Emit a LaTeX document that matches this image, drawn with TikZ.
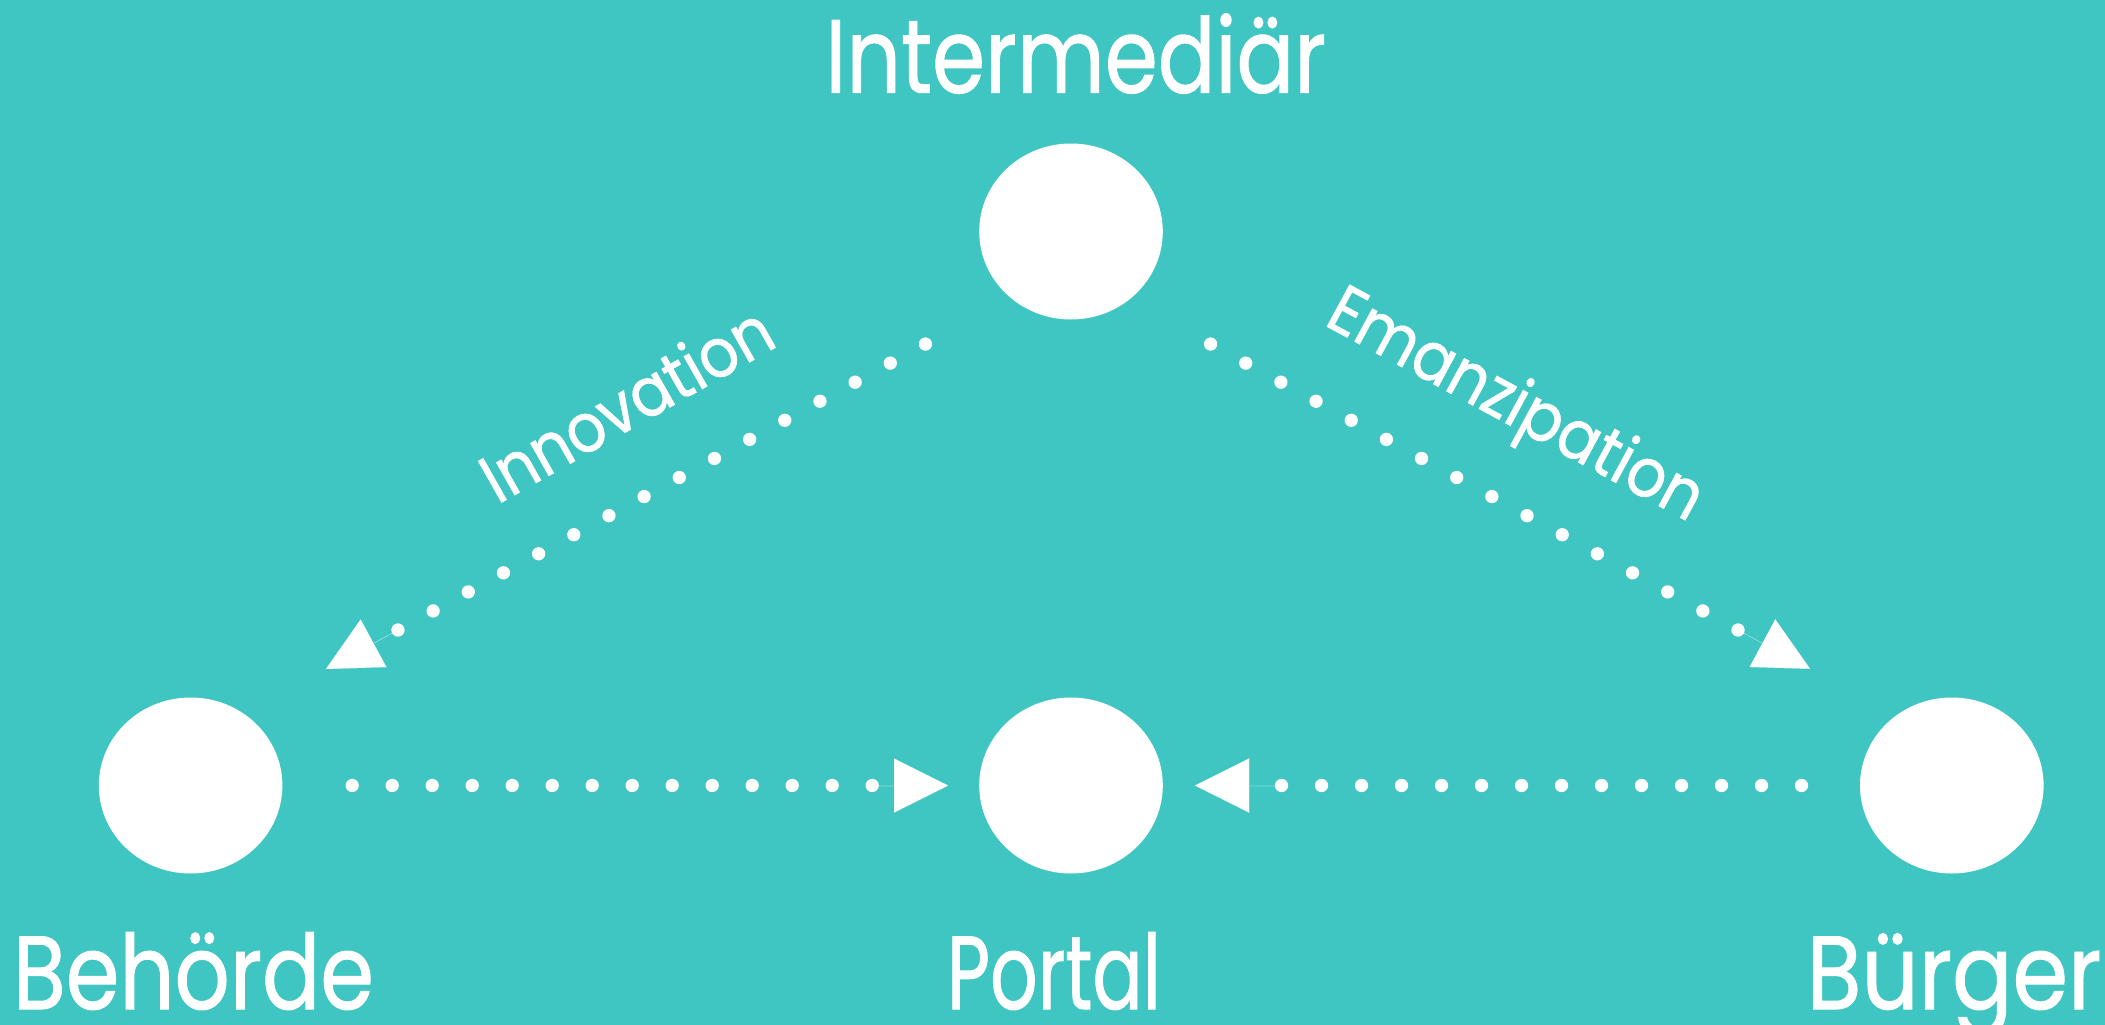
\documentclass[tikz,border=0pt]{standalone}
\usepackage{fontspec}
\setmainfont{Poppins}
\newfontfamily\thickpop{Poppins}[FakeBold=1]
\usetikzlibrary{shapes.geometric,arrows.meta,calc}
\definecolor{bgteal}{RGB}{64,198,194}
\tikzset{
  blob/.style={ellipse, fill=white, draw=none, inner sep=0pt, minimum width=183.6pt, minimum height=176pt},
  biglabel/.style={text=white, inner sep=0pt, anchor=base, font=\thickpop\fontsize{104}{110}\selectfont},
  edgelabel/.style={text=white, inner sep=0pt, anchor=base, font=\thickpop\fontsize{68}{72}\selectfont},
  dotline/.style={draw=white, line width=13.3pt, line cap=round, dash pattern=on 0pt off 40pt, shorten <=-0.5pt, shorten >=-0.5pt},
  headtip/.style={draw=white, fill=white, line width=0.01pt, -{Triangle[length=54pt,width=54pt]}}
}
\begin{document}
\begin{tikzpicture}[x=1pt,y=-1pt]
\fill[bgteal] (0,0) rectangle (2105,1025);
\useasboundingbox (0,0) rectangle (2105,1025);
% nodes
\node[blob] (I) at (1071,231.5) {};
\node[blob] (B) at (190.6,785.5) {};
\node[blob] (P) at (1071,785.5) {};
\node[blob] (U) at (1951.8,785.5) {};
% labels
\node[biglabel, xscale=0.821] (LI) at (1075.7,92.7) {Intermediär};
\node[biglabel, xscale=0.83] (LB) at (193.4,1009) {Behörde};
\node[biglabel, xscale=0.715] (LP) at (1054,1009) {Portal};
\node[biglabel, xscale=0.86] (LU) at (1954,1009) {Bürger};
% connector coordinates
\coordinate (h1s) at (352.7,785.5);
\coordinate (h1e) at (872.7,785.5);
\coordinate (h1t) at (948,785.5);
\coordinate (h2s) at (1801,785.5);
\coordinate (h2e) at (1281,785.5);
\coordinate (h2t) at (1195,785.5);
\coordinate (d1s) at (925,344.3);
\coordinate (d1e) at (397.1,630.5);
\coordinate (d1t) at (326,669);
\coordinate (d2s) at (1211,344.3);
\coordinate (d2e) at (1738.9,630.5);
\coordinate (d2t) at (1810,668.8);
% dotted connectors
\draw[dotline] (h1s) -- (h1e);
\draw[dotline] (h2s) -- (h2e);
\draw[dotline] (d1s) -- (d1e);
\draw[dotline] (d2s) -- (d2e);
% arrowheads
\draw[headtip] (h1e) -- (h1t);
\draw[headtip] (h2e) -- (h2t);
\draw[headtip] (d1e) -- (d1t);
\draw[headtip] (d2e) -- (d2t);
% edge labels
\node[edgelabel, rotate=29.5, xscale=0.9] (LInn) at (638.5,425) {Innovation};
\node[edgelabel, rotate=-28.4, xscale=0.9] (LEm) at (1506,423.3) {Emanzipation};
\end{tikzpicture}
\end{document}
